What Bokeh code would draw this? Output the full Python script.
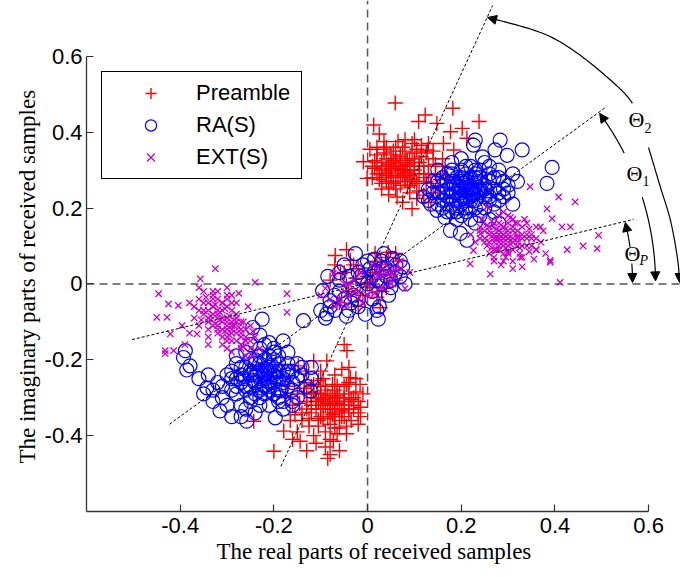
import numpy as np
from bokeh.plotting import figure
from bokeh.models import FixedTicker, Arrow, NormalHead, Label, Range1d, Title
from bokeh.embed import file_html
from bokeh.resources import INLINE

# ---------------- data ----------------
# Preamble samples (real, imag)
preamble = [
    # upper cluster
    (0.059, 0.477), (0.123, 0.445), (0.182, 0.463), (0.238, 0.428), (0.202, 0.410), (0.013, 0.419),
    (0.109, 0.428), (0.148, 0.423), (0.177, 0.401), (0.212, 0.384), (-0.009, 0.322), (-0.001, 0.278),
    (0.063, 0.229), (0.095, 0.198), (0.120, 0.234), (0.162, 0.370), (0.184, 0.353), (0.127, 0.353),
    (0.030, 0.310), (0.045, 0.295), (0.060, 0.320), (0.075, 0.300), (0.090, 0.285), (0.050, 0.270),
    (0.070, 0.335), (0.085, 0.315), (0.100, 0.300), (0.040, 0.330), (0.025, 0.290), (0.055, 0.350),
    (0.080, 0.270), (0.110, 0.320), (0.095, 0.345), (0.065, 0.285), (0.035, 0.345), (0.120, 0.290),
    (0.105, 0.265), (0.015, 0.305), (0.045, 0.255), (0.130, 0.310), (0.075, 0.360), (0.060, 0.250),
    (0.020, 0.340), (0.090, 0.240), (0.140, 0.330), (0.115, 0.350), (0.050, 0.305), (0.070, 0.310),
    (0.085, 0.295), (0.040, 0.285), (0.100, 0.330), (0.030, 0.265), (0.125, 0.270), (0.055, 0.325),
    (0.010, 0.280), (0.145, 0.290), (0.080, 0.380), (0.035, 0.375), (0.150, 0.255), (0.110, 0.245),
    (0.005, 0.355), (0.095, 0.370), (0.160, 0.310), (0.130, 0.215), (0.075, 0.215), (0.140, 0.240),
    (0.025, 0.395), (0.170, 0.280),
    (0.04, 0.31), (0.06, 0.29), (0.08, 0.31), (0.05, 0.28), (0.07, 0.32), (0.09, 0.30), (0.03, 0.30),
    (0.06, 0.33), (0.10, 0.29), (0.04, 0.27), (0.08, 0.28), (0.07, 0.26), (0.05, 0.34), (0.11, 0.31),
    (0.02, 0.32), (0.09, 0.33), (0.12, 0.28), (0.03, 0.28), (0.065, 0.305), (0.045, 0.315),
    (0.085, 0.325), (0.055, 0.265), (0.075, 0.285), (0.095, 0.275), (0.035, 0.355), (0.115, 0.335),
    (0.025, 0.275), (0.105, 0.355), (0.135, 0.265), (0.015, 0.325), (0.125, 0.345), (0.085, 0.255),
    (0.045, 0.235), (0.065, 0.375), (0.105, 0.225), (0.145, 0.315), (0.155, 0.275), (0.02, 0.36),
    (0.10, 0.38), (0.13, 0.37),
    (0.05, 0.30), (0.07, 0.30), (0.06, 0.31), (0.08, 0.29), (0.04, 0.29), (0.09, 0.31), (0.06, 0.27),
    (0.03, 0.32), (0.10, 0.32), (0.07, 0.34), (0.05, 0.32), (0.11, 0.29), (0.02, 0.29), (0.08, 0.35),
    (0.12, 0.31), (0.04, 0.36), (0.09, 0.26), (0.13, 0.29), (0.01, 0.31), (0.06, 0.36), (0.10, 0.27),
    (0.14, 0.35), (0.03, 0.25), (0.16, 0.33), (0.115, 0.365),
    # lower cluster
    (-0.044, -0.176), (-0.050, -0.160), (-0.200, -0.441), (-0.080, -0.450), (-0.073, -0.415),
    (-0.144, -0.415), (-0.016, -0.265), (-0.037, -0.247), (-0.243, -0.362), (-0.179, -0.388),
    (-0.115, -0.203), (-0.087, -0.203), (-0.148, -0.216), (-0.100, -0.300), (-0.080, -0.320),
    (-0.060, -0.300), (-0.090, -0.280), (-0.070, -0.340), (-0.050, -0.320), (-0.110, -0.330),
    (-0.040, -0.290), (-0.120, -0.290), (-0.065, -0.270), (-0.085, -0.355), (-0.030, -0.330),
    (-0.130, -0.310), (-0.095, -0.250), (-0.055, -0.350), (-0.075, -0.300), (-0.105, -0.360),
    (-0.045, -0.265), (-0.140, -0.340), (-0.020, -0.310), (-0.115, -0.265), (-0.060, -0.380),
    (-0.150, -0.290), (-0.035, -0.360), (-0.090, -0.390), (-0.125, -0.375), (-0.010, -0.290),
    (-0.070, -0.240), (-0.160, -0.320), (-0.100, -0.230), (-0.025, -0.250), (-0.080, -0.410),
    (-0.135, -0.260), (-0.055, -0.225), (-0.165, -0.360), (-0.115, -0.400), (-0.045, -0.395),
    (-0.150, -0.390), (-0.095, -0.320), (-0.065, -0.315), (-0.085, -0.295), (-0.075, -0.330),
    (-0.105, -0.310), (-0.120, -0.340), (-0.040, -0.340), (-0.130, -0.230), (-0.175, -0.300),
    (-0.015, -0.350), (-0.060, -0.440), (-0.085, -0.460),
    (-0.08, -0.30), (-0.07, -0.31), (-0.09, -0.32), (-0.06, -0.33), (-0.10, -0.29), (-0.05, -0.30),
    (-0.11, -0.31), (-0.08, -0.34), (-0.07, -0.28), (-0.04, -0.31), (-0.12, -0.32), (-0.09, -0.27),
    (-0.06, -0.36), (-0.03, -0.32), (-0.10, -0.35), (-0.13, -0.29), (-0.05, -0.27), (-0.085, -0.315),
    (-0.065, -0.295), (-0.095, -0.305), (-0.075, -0.345), (-0.055, -0.335), (-0.115, -0.285),
    (-0.035, -0.305), (-0.125, -0.355), (-0.045, -0.375), (-0.105, -0.375), (-0.025, -0.285),
    (-0.145, -0.315), (-0.075, -0.265), (-0.135, -0.275), (-0.015, -0.325), (-0.095, -0.355),
    (-0.155, -0.345), (-0.065, -0.395), (-0.105, -0.255), (-0.04, -0.22), (-0.17, -0.27),
    (-0.11, -0.42), (-0.02, -0.37),
    (-0.07, -0.30), (-0.09, -0.31), (-0.08, -0.33), (-0.06, -0.32), (-0.10, -0.33), (-0.05, -0.31),
    (-0.11, -0.30), (-0.07, -0.35), (-0.09, -0.29), (-0.04, -0.33), (-0.12, -0.30), (-0.06, -0.29),
    (-0.08, -0.37), (-0.03, -0.30), (-0.13, -0.33), (-0.10, -0.27), (-0.05, -0.35), (-0.14, -0.36),
    (-0.02, -0.34), (-0.07, -0.38), (-0.12, -0.27), (-0.04, -0.26), (-0.09, -0.43), (-0.13, -0.44),
    (-0.16, -0.41),
    # near origin
    (-0.069, 0.075), (-0.037, 0.062), (0.016, 0.080), (0.044, 0.083), (0.027, -0.063), (-0.058, 0.027),
    (0.060, 0.010), (-0.020, 0.040), (0.010, 0.030), (-0.040, -0.020), (0.030, 0.050), (-0.010, -0.030),
    (0.040, -0.010), (-0.060, -0.050), (0.005, 0.000), (-0.025, 0.015), (0.020, -0.035), (0.050, 0.035),
    (-0.080, 0.010), (0.065, 0.060), (-0.045, 0.090),
    (0.00, 0.02), (-0.03, 0.05), (0.02, 0.06), (-0.05, 0.03), (0.03, -0.02), (-0.02, -0.06),
    (0.04, 0.07), (0.01, -0.01), (-0.07, 0.05), (0.06, 0.08),
]

# RA(S) samples (real, imag)
ra_s = [
    # upper cluster
    (0.283, 0.379), (0.330, 0.353), (0.394, 0.307), (0.383, 0.265), (0.298, 0.339), (0.226, 0.366),
    (0.177, 0.141), (0.198, 0.133), (0.212, 0.115), (0.148, 0.194), (0.272, 0.353), (0.230, 0.379),
    (0.180, 0.250), (0.200, 0.240), (0.220, 0.260), (0.210, 0.220), (0.190, 0.280), (0.240, 0.240),
    (0.170, 0.230), (0.230, 0.280), (0.250, 0.260), (0.160, 0.260), (0.200, 0.300), (0.260, 0.220),
    (0.220, 0.200), (0.180, 0.210), (0.240, 0.300), (0.150, 0.240), (0.270, 0.250), (0.210, 0.270),
    (0.190, 0.190), (0.230, 0.220), (0.170, 0.290), (0.280, 0.280), (0.140, 0.270), (0.250, 0.200),
    (0.200, 0.180), (0.290, 0.230), (0.160, 0.200), (0.220, 0.310), (0.260, 0.310), (0.130, 0.250),
    (0.300, 0.260), (0.240, 0.180), (0.180, 0.320), (0.270, 0.190), (0.150, 0.300), (0.310, 0.290),
    (0.200, 0.330), (0.120, 0.230), (0.280, 0.160), (0.230, 0.160), (0.310, 0.210), (0.165, 0.175),
    (0.245, 0.335), (0.135, 0.210), (0.195, 0.255), (0.215, 0.245), (0.205, 0.225), (0.225, 0.235),
    (0.185, 0.265), (0.255, 0.245),
    (0.20, 0.25), (0.22, 0.25), (0.21, 0.23), (0.19, 0.24), (0.23, 0.26), (0.18, 0.27), (0.24, 0.25),
    (0.20, 0.21), (0.22, 0.28), (0.17, 0.25), (0.25, 0.23), (0.19, 0.22), (0.21, 0.29), (0.26, 0.27),
    (0.16, 0.22), (0.23, 0.20), (0.28, 0.24), (0.18, 0.29), (0.24, 0.28), (0.15, 0.27), (0.27, 0.21),
    (0.20, 0.27), (0.21, 0.20), (0.26, 0.29), (0.17, 0.21), (0.29, 0.27), (0.14, 0.24), (0.23, 0.30),
    (0.19, 0.17), (0.25, 0.32), (0.30, 0.24), (0.16, 0.28), (0.22, 0.17), (0.28, 0.30), (0.13, 0.22),
    (0.32, 0.27), (0.26, 0.17), (0.18, 0.19), (0.235, 0.245), (0.205, 0.265),
    (0.21, 0.25), (0.20, 0.23), (0.22, 0.24), (0.19, 0.26), (0.23, 0.24), (0.21, 0.26), (0.18, 0.23),
    (0.24, 0.27), (0.20, 0.28), (0.22, 0.22), (0.17, 0.27), (0.25, 0.25), (0.19, 0.20), (0.23, 0.29),
    (0.26, 0.23), (0.16, 0.24), (0.27, 0.28), (0.21, 0.19), (0.18, 0.30), (0.28, 0.22), (0.15, 0.21),
    (0.24, 0.21), (0.29, 0.25), (0.17, 0.19), (0.21, 0.31),
    # lower cluster
    (-0.379, -0.216), (-0.393, -0.194), (-0.137, -0.097), (-0.258, -0.362), (-0.197, -0.353),
    (-0.122, -0.282), (-0.315, -0.335), (-0.343, -0.274), (-0.386, -0.227), (-0.389, -0.176),
    (-0.225, -0.093), (-0.245, -0.115), (-0.220, -0.240), (-0.200, -0.230), (-0.240, -0.260),
    (-0.210, -0.270), (-0.180, -0.250), (-0.250, -0.230), (-0.230, -0.210), (-0.190, -0.210),
    (-0.260, -0.280), (-0.170, -0.230), (-0.200, -0.290), (-0.240, -0.200), (-0.280, -0.250),
    (-0.160, -0.260), (-0.230, -0.300), (-0.210, -0.190), (-0.270, -0.220), (-0.150, -0.210),
    (-0.290, -0.280), (-0.190, -0.310), (-0.250, -0.310), (-0.170, -0.180), (-0.300, -0.240),
    (-0.140, -0.240), (-0.220, -0.160), (-0.310, -0.300), (-0.180, -0.330), (-0.270, -0.320),
    (-0.130, -0.270), (-0.320, -0.260), (-0.200, -0.170), (-0.260, -0.180), (-0.150, -0.300),
    (-0.330, -0.310), (-0.240, -0.340), (-0.120, -0.220), (-0.280, -0.190), (-0.215, -0.250),
    (-0.195, -0.245), (-0.235, -0.235), (-0.205, -0.215), (-0.225, -0.275), (-0.185, -0.280),
    (-0.265, -0.250), (-0.160, -0.320), (-0.290, -0.350), (-0.340, -0.240), (-0.350, -0.290),
    (-0.180, -0.150), (-0.230, -0.135),
    (-0.21, -0.24), (-0.23, -0.25), (-0.22, -0.23), (-0.20, -0.26), (-0.24, -0.24), (-0.19, -0.23),
    (-0.25, -0.27), (-0.21, -0.28), (-0.18, -0.26), (-0.26, -0.22), (-0.22, -0.29), (-0.17, -0.24),
    (-0.24, -0.29), (-0.20, -0.20), (-0.27, -0.26), (-0.16, -0.28), (-0.23, -0.19), (-0.28, -0.29),
    (-0.19, -0.30), (-0.25, -0.20), (-0.15, -0.25), (-0.29, -0.23), (-0.21, -0.32), (-0.17, -0.21),
    (-0.26, -0.33), (-0.31, -0.27), (-0.14, -0.22), (-0.23, -0.32), (-0.19, -0.19), (-0.28, -0.21),
    (-0.30, -0.32), (-0.16, -0.31), (-0.33, -0.28), (-0.12, -0.25), (-0.25, -0.16), (-0.21, -0.155),
    (-0.36, -0.25), (-0.27, -0.35), (-0.215, -0.225), (-0.245, -0.255),
    (-0.22, -0.25), (-0.21, -0.26), (-0.23, -0.23), (-0.20, -0.24), (-0.24, -0.26), (-0.22, -0.27),
    (-0.19, -0.25), (-0.25, -0.24), (-0.21, -0.22), (-0.23, -0.28), (-0.18, -0.23), (-0.26, -0.27),
    (-0.20, -0.29), (-0.24, -0.21), (-0.17, -0.27), (-0.27, -0.24), (-0.22, -0.20), (-0.19, -0.28),
    (-0.28, -0.27), (-0.16, -0.23), (-0.25, -0.30), (-0.20, -0.18), (-0.29, -0.25), (-0.18, -0.31),
    (-0.23, -0.17),
    # near origin
    (-0.026, 0.080), (0.053, 0.067), (0.070, 0.020), (0.023, -0.093), (-0.020, -0.060), (-0.080, -0.044),
    (-0.096, -0.018), (0.000, 0.000), (0.020, 0.030), (-0.040, 0.020), (0.040, 0.040), (-0.060, -0.020),
    (0.010, -0.040), (-0.030, -0.030), (0.060, 0.050), (-0.050, 0.050), (0.030, 0.000), (-0.010, 0.050),
    (0.045, -0.030), (-0.070, -0.070), (0.075, 0.045), (-0.005, -0.080), (-0.045, -0.085), (0.015, 0.065),
    (-0.085, 0.020), (0.035, 0.080), (0.080, 0.000), (-0.015, 0.020), (0.005, 0.040), (-0.035, -0.050),
    (0.050, 0.010), (-0.060, 0.010), (0.025, -0.060), (-0.100, -0.070), (-0.090, -0.090), (-0.087, -0.079),
    (-0.01, 0.01), (0.02, 0.01), (-0.03, -0.01), (0.01, -0.02), (0.04, 0.02), (-0.05, -0.04),
    (0.03, 0.06), (-0.02, 0.03), (0.06, 0.03), (-0.07, -0.03), (0.00, 0.06), (-0.04, -0.07),
    (0.05, -0.01), (-0.06, 0.03), (0.02, -0.07), (0.07, 0.06), (-0.08, -0.06), (-0.02, -0.04),
    (0.03, 0.04), (0.01, 0.02),
]

# EXT(S) samples (real, imag)
ext_s = [
    # upper cluster
    (0.408, 0.229), (0.443, 0.216), (0.493, 0.128), (0.490, 0.093), (0.426, 0.090), (0.411, 0.004),
    (0.219, 0.053), (0.262, 0.026), (0.390, 0.057), (0.460, 0.100), (0.347, 0.256), (0.383, 0.198),
    (0.394, 0.172), (0.415, 0.150), (0.433, 0.150), (0.369, 0.150), (0.390, 0.062), (0.326, 0.070),
    (0.226, 0.088), (0.241, 0.132), (0.255, 0.203), (0.290, 0.189),
    (0.280, 0.130), (0.300, 0.120), (0.270, 0.110), (0.310, 0.140), (0.290, 0.100), (0.260, 0.140),
    (0.320, 0.110), (0.285, 0.155), (0.300, 0.085), (0.330, 0.130), (0.250, 0.120), (0.275, 0.090),
    (0.315, 0.160), (0.340, 0.100), (0.265, 0.165), (0.295, 0.070), (0.345, 0.145), (0.240, 0.150),
    (0.305, 0.175), (0.325, 0.080), (0.255, 0.100), (0.350, 0.120), (0.280, 0.180), (0.310, 0.060),
    (0.270, 0.070), (0.335, 0.170), (0.360, 0.090), (0.245, 0.170), (0.290, 0.130), (0.305, 0.105),
    (0.275, 0.120), (0.320, 0.125), (0.295, 0.145), (0.265, 0.125), (0.355, 0.065), (0.330, 0.045),
    (0.285, 0.050), (0.370, 0.110), (0.230, 0.110), (0.375, 0.140),
    (0.29, 0.12), (0.30, 0.13), (0.28, 0.11), (0.31, 0.12), (0.27, 0.13), (0.30, 0.10), (0.29, 0.15),
    (0.32, 0.14), (0.26, 0.11), (0.28, 0.09), (0.31, 0.09), (0.33, 0.12), (0.27, 0.16), (0.34, 0.13),
    (0.25, 0.14), (0.30, 0.16), (0.29, 0.08), (0.32, 0.10), (0.26, 0.08), (0.35, 0.10), (0.28, 0.14),
    (0.31, 0.17), (0.33, 0.07), (0.24, 0.12), (0.36, 0.12), (0.27, 0.06), (0.34, 0.16), (0.285, 0.125),
    (0.305, 0.115), (0.295, 0.095), (0.275, 0.145), (0.315, 0.135), (0.265, 0.095), (0.325, 0.095),
    (0.345, 0.085), (0.255, 0.155), (0.38, 0.08), (0.36, 0.15), (0.31, 0.04), (0.22, 0.13),
    (0.29, 0.11), (0.30, 0.12), (0.28, 0.12), (0.31, 0.11), (0.29, 0.13), (0.27, 0.12), (0.30, 0.14),
    (0.32, 0.12), (0.28, 0.10), (0.26, 0.13), (0.31, 0.15), (0.33, 0.10), (0.27, 0.09), (0.30, 0.08),
    (0.34, 0.12), (0.25, 0.11), (0.32, 0.16), (0.28, 0.16), (0.35, 0.13), (0.29, 0.06), (0.26, 0.15),
    (0.33, 0.15), (0.30, 0.18), (0.36, 0.09), (0.24, 0.14),
    # lower cluster
    (-0.325, 0.040), (-0.357, 0.013), (-0.446, -0.026), (-0.240, 0.004), (-0.172, -0.026),
    (-0.172, -0.075), (-0.450, -0.088), (-0.432, -0.176), (-0.414, -0.176), (-0.421, -0.132),
    (-0.425, -0.053), (-0.428, -0.088), (-0.396, -0.110), (-0.404, -0.057), (-0.432, -0.184),
    (-0.364, -0.132), (-0.320, -0.080), (-0.300, -0.100), (-0.330, -0.060), (-0.290, -0.120),
    (-0.310, -0.050), (-0.340, -0.100), (-0.280, -0.090), (-0.300, -0.140), (-0.350, -0.070),
    (-0.270, -0.130), (-0.320, -0.120), (-0.290, -0.070), (-0.330, -0.030), (-0.260, -0.150),
    (-0.310, -0.160), (-0.360, -0.110), (-0.280, -0.050), (-0.250, -0.110), (-0.340, -0.140),
    (-0.300, -0.030), (-0.270, -0.170), (-0.350, -0.020), (-0.240, -0.140), (-0.315, -0.095),
    (-0.295, -0.085), (-0.325, -0.105), (-0.285, -0.110), (-0.305, -0.065), (-0.265, -0.100),
    (-0.335, -0.085), (-0.370, -0.060), (-0.230, -0.170), (-0.290, -0.180), (-0.380, -0.130),
    (-0.255, -0.060), (-0.360, -0.010), (-0.245, -0.190), (-0.300, -0.010), (-0.275, -0.025),
    (-0.390, -0.160),
    (-0.31, -0.09), (-0.32, -0.07), (-0.30, -0.11), (-0.33, -0.08), (-0.29, -0.10), (-0.31, -0.12),
    (-0.34, -0.05), (-0.28, -0.13), (-0.32, -0.04), (-0.30, -0.06), (-0.27, -0.14), (-0.33, -0.11),
    (-0.29, -0.15), (-0.35, -0.08), (-0.26, -0.12), (-0.31, -0.14), (-0.34, -0.12), (-0.28, -0.08),
    (-0.30, -0.04), (-0.27, -0.16), (-0.32, -0.02), (-0.25, -0.15), (-0.36, -0.04), (-0.315, -0.075),
    (-0.305, -0.125), (-0.325, -0.055), (-0.295, -0.135), (-0.285, -0.095), (-0.335, -0.095),
    (-0.275, -0.115), (-0.345, -0.035), (-0.265, -0.165), (-0.355, -0.095), (-0.245, -0.125),
    (-0.30, -0.17), (-0.37, -0.09), (-0.26, -0.19), (-0.34, -0.16), (-0.29, -0.03), (-0.38, -0.05),
    (-0.31, -0.10), (-0.30, -0.09), (-0.32, -0.09), (-0.31, -0.07), (-0.29, -0.11), (-0.33, -0.06),
    (-0.30, -0.12), (-0.32, -0.11), (-0.28, -0.10), (-0.34, -0.07), (-0.29, -0.13), (-0.33, -0.04),
    (-0.27, -0.12), (-0.31, -0.05), (-0.28, -0.15), (-0.35, -0.05), (-0.26, -0.14), (-0.32, -0.13),
    (-0.30, -0.15), (-0.34, -0.09), (-0.27, -0.10), (-0.33, -0.02), (-0.25, -0.17), (-0.36, -0.07),
    (-0.29, -0.05),
    # near origin
    (-0.073, 0.027), (-0.090, -0.012), (0.080, -0.012), (0.000, 0.000), (0.020, 0.020), (-0.020, -0.020),
    (0.040, 0.030), (-0.040, -0.030), (0.060, 0.040), (-0.060, -0.040), (0.030, -0.010), (-0.030, 0.010),
    (0.010, 0.050), (-0.010, -0.050), (0.050, 0.000), (-0.050, 0.000), (0.070, 0.060), (-0.070, -0.060),
    (0.025, 0.035), (-0.025, -0.015), (0.045, 0.015), (-0.045, -0.055), (0.015, -0.025), (-0.015, 0.030),
    (0.090, 0.030), (-0.100, -0.030),
    (0.01, 0.01), (-0.01, 0.00), (0.03, 0.02), (-0.03, -0.02), (0.05, 0.03), (-0.05, -0.02),
    (0.02, 0.04), (-0.02, -0.04), (0.06, 0.02), (-0.06, -0.05), (0.04, 0.05), (-0.04, 0.00),
    (0.00, -0.03), (0.07, 0.04), (-0.08, -0.04),
]

series_names = ["Preamble", "RA(S)", "EXT(S)"]
x_ticks = [-0.4, -0.2, 0, 0.2, 0.4, 0.6]
y_ticks = [-0.4, -0.2, 0, 0.2, 0.4, 0.6]
x_tick_labels = ["-0.4", "-0.2", "0", "0.2", "0.4", "0.6"]
y_tick_labels = ["-0.4", "-0.2", "0", "0.2", "0.4", "0.6"]
x_title = "The real parts of received samples"
y_title = "The imaginary parts of received samples"

# decision lines through the origin (start / end points)
line_p = [(-0.503, -0.147), (0.568, 0.170)]
line_1 = [(-0.423, -0.370), (0.509, 0.466)]
line_2 = [(-0.185, -0.481), (0.267, 0.734)]

# ---------------- layout ----------------
W, H = 680, 577
FL, FR, FT, FB = 86, 680, 0, 511
XR = (-0.6, 0.668)
YR = (-0.6, 0.747)

def dx(px):
    return XR[0] + (px - FL) / (FR - FL) * (XR[1] - XR[0])

def dy(py):
    return YR[0] + (FB - py) / (FB - FT) * (YR[1] - YR[0])

OX = FL + (0 - XR[0]) / (XR[1] - XR[0]) * (FR - FL)
OY = FB - (0 - YR[0]) / (YR[1] - YR[0]) * (FB - FT)

p = figure(width=W, height=H, x_range=Range1d(*XR), y_range=Range1d(*YR),
           output_backend="svg", toolbar_location=None,
           min_border_left=FL, min_border_right=W - FR,
           min_border_top=FT, min_border_bottom=H - FB)
p.title.visible = False
p.outline_line_color = None
p.xgrid.visible = False
p.ygrid.visible = False
p.background_fill_color = "white"
p.border_fill_color = "white"

for ax, ticks, labels in ((p.xaxis, x_ticks, x_tick_labels), (p.yaxis, y_ticks, y_tick_labels)):
    ax.ticker = FixedTicker(ticks=ticks)
    ax.major_label_overrides = {t: l for t, l in zip(ticks, labels)}
    ax.bounds = (-0.6, 0.6)
    ax.major_tick_in = 7
    ax.major_tick_out = 0
    ax.minor_tick_in = 0
    ax.minor_tick_out = 0
    ax.axis_line_width = 1.3
    ax.axis_line_color = "#333333"
    ax.major_tick_line_color = "#333333"
    ax.major_tick_line_width = 1.2
    ax.major_label_text_font = "Liberation Sans"
    ax.major_label_text_font_size = "22px"
    ax.major_label_text_color = "black"

p.xaxis.major_label_standoff = 6
p.yaxis.major_label_standoff = 4

# axis titles (side titles, so they can sit where the reference has them)
p.add_layout(Title(text=y_title, align="left", offset=48, text_font="Liberation Serif",
                   text_font_size="23px", text_font_style="normal", text_color="black",
                   standoff=4), "left")
p.add_layout(Title(text=x_title, align="left", offset=130, text_font="Liberation Serif",
                   text_font_size="23px", text_font_style="normal", text_color="black",
                   standoff=2), "below")

# reference dashed axes through origin
p.line([0, 0], [YR[0], YR[1]], line_color="#555555", line_width=1.5, line_dash="8 5")
p.line([XR[0], XR[1]], [0, 0], line_color="#555555", line_width=1.5, line_dash="8 5")

# scatter series
p.scatter([a for a, b in preamble], [b for a, b in preamble], marker="cross", size=15,
          line_color="#ff0000", line_width=1.4, legend_label=series_names[0])
p.scatter([a for a, b in ra_s], [b for a, b in ra_s], marker="circle", size=14,
          line_color="#0000ff", fill_color=None, line_width=1.2, legend_label=series_names[1])
p.scatter([a for a, b in ext_s], [b for a, b in ext_s], marker="x", size=9,
          line_color="#cc00cc", line_width=1.3, legend_label=series_names[2])

# dotted decision lines
for ln in (line_p, line_1, line_2):
    p.line([ln[0][0], ln[1][0]], [ln[0][1], ln[1][1]], line_color="black",
           line_width=1, line_dash="3 2")

# ---------------- angle annotations (pixel geometry) ----------------
def catmull(points, n=16):
    pts = np.array(points, dtype=float)
    out = []
    for i in range(len(pts) - 1):
        p0 = pts[max(i - 1, 0)]
        p1 = pts[i]
        p2 = pts[i + 1]
        p3 = pts[min(i + 2, len(pts) - 1)]
        for t in np.linspace(0, 1, n, endpoint=False):
            t2, t3 = t * t, t * t * t
            pt = 0.5 * ((2 * p1) + (-p0 + p2) * t + (2 * p0 - 5 * p1 + 4 * p2 - p3) * t2
                        + (-p0 + 3 * p1 - 3 * p2 + p3) * t3)
            out.append(pt)
    out.append(pts[-1])
    return np.array(out)

def draw_px(path):
    p.line([dx(a) for a, b in path], [dy(b) for a, b in path], line_color="black", line_width=1.2)

def head(tip, frm):
    p.add_layout(Arrow(end=NormalHead(size=9, fill_color="black", line_color="black", line_width=1),
                       x_start=dx(frm[0]), y_start=dy(frm[1]), x_end=dx(tip[0]), y_end=dy(tip[1]),
                       line_alpha=0))

# Theta_2 arc
t2 = catmull([(488, 17), (540, 32), (573, 50), (607, 77), (630, 100), (640, 123), (648, 147),
              (660, 187), (670, 220), (677, 258), (679, 281)])
draw_px([q for q in t2 if q[1] <= 103])
draw_px([q for q in t2 if q[1] >= 146])
head((487, 17), (500, 20.5))
head((679, 282), (679, 270))

def arc_pts(r, a0, a1, n=60):
    a = np.radians(np.linspace(a0, a1, n))
    return [(OX + r * np.cos(t), OY - r * np.sin(t)) for t in a]

def arc_pt(r, a):
    a = np.radians(a)
    return (OX + r * np.cos(a), OY - r * np.sin(a))

# Theta_1 arc
draw_px(arc_pts(288, 27, 35))
draw_px(arc_pts(288, 1.5, 17.5))
head(arc_pt(288, 36.3), arc_pt(288, 33))
head(arc_pt(288, 0.6), arc_pt(288, 3.5))

# Theta_P arrows
draw_px(arc_pts(265, 8.0, 12.5))
draw_px(arc_pts(265, 1.2, 4.4))
head(arc_pt(265, 13.4), arc_pt(265, 10.5))
head(arc_pt(265, 0.3), arc_pt(265, 3.0))

def theta_label(px, py, sub, spx, spy, italic=False):
    p.add_layout(Label(x=dx(px), y=dy(py), text="\u0398", text_font="Liberation Serif",
                       text_font_size="22px", text_align="left", text_baseline="middle",
                       text_color="black"))
    p.add_layout(Label(x=dx(spx), y=dy(spy), text=sub, text_font="Liberation Serif",
                       text_font_size="14px", text_align="left", text_baseline="middle",
                       text_color="black", text_font_style="italic" if italic else "normal"))

theta_label(628, 119, "2", 644, 127)
theta_label(626, 173, "1", 642, 180)
theta_label(624, 253, "P", 639, 260, italic=True)

# ---------------- legend ----------------
lg = p.legend[0]
lg.location = (15, 332)
lg.border_line_color = "black"
lg.border_line_alpha = 1.0
lg.border_line_width = 1.3
lg.background_fill_color = "white"
lg.background_fill_alpha = 1.0
lg.padding = 7
lg.spacing = 4
lg.margin = 0
lg.glyph_height = 28
lg.glyph_width = 83
lg.label_height = 28
lg.label_width = 98
lg.label_standoff = 4
lg.label_text_font = "Liberation Sans"
lg.label_text_font_size = "22px"
lg.label_text_color = "black"

open("out.html", "w").write(file_html(p, INLINE))
